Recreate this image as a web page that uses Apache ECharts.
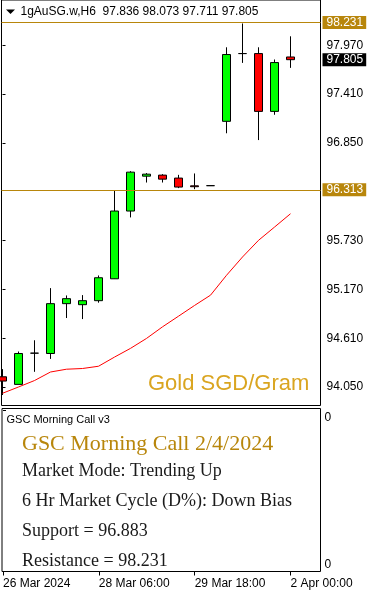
<!DOCTYPE html>
<html><head><meta charset="utf-8">
<script src="https://cdn.jsdelivr.net/npm/echarts@6/dist/echarts.min.js"></script>
<style>html,body{margin:0;padding:0;background:#fff;}#c{width:374px;height:595px;}</style>
</head><body><div id="c"></div>
<script>
// ---- data ----
const symbolName = '1gAuSG.w,H6';
const opens  = [94.168, 94.081, 94.439, 94.435, 95.007, 94.995, 95.041, 95.292, 96.069, 96.469, 96.481, 96.447, 96.358, 96.360, 97.098, 97.875, 97.875, 97.212, 97.836];
const closes = [94.119, 94.435, 94.439, 95.007, 95.064, 95.041, 95.304, 96.069, 96.515, 96.492, 96.435, 96.344, 96.348, 96.360, 97.864, 97.875, 97.212, 97.772, 97.805];
const lows   = [93.959, 94.081, 94.225, 94.373, 94.842, 94.830, 95.018, 95.290, 95.996, 96.396, 96.396, 96.332, 96.320, 96.360, 96.961, 97.768, 96.883, 97.173, 97.711];
const highs  = [94.256, 94.458, 94.587, 95.185, 95.101, 95.105, 95.330, 96.301, 96.526, 96.504, 96.492, 96.484, 96.500, 96.360, 97.947, 98.220, 97.947, 97.807, 98.073];
const maValues = [93.979, 94.051, 94.125, 94.223, 94.255, 94.263, 94.289, 94.394, 94.494, 94.608, 94.741, 94.863, 94.986, 95.104, 95.332, 95.542, 95.733, 95.885, 96.038];
const priceTicks = [94.05, 94.61, 95.17, 95.73, 96.85, 97.41, 97.97];
const timeTickIndex = [0, 6, 12, 18];
const timeTickLabels = ['26 Mar 2024', '28 Mar 06:00', '29 Mar 18:00', '2 Apr 00:00'];
const resistanceLevel = 98.231;
const supportLevel = 96.883;
const levelLine = 96.313;
const chartTitle = 'Gold SGD/Gram';
const panelName = 'GSC Morning Call v3';
const panelTitle = 'GSC Morning Call 2/4/2024';
const marketMode = 'Trending Up';
const marketCycle = 'Down Bias';

// ---- chart ----
const F = '"Liberation Sans", Arial, sans-serif';
const SERIF = '"Liberation Serif", "Times New Roman", serif';
const GOLD = '#B8860B';
const last = opens.length - 1;
const xMin = -0.0625, xMax = 19.875;
const yMin = 93.8388, yMax = 98.4894;

const chart = echarts.init(document.getElementById('c'), null, {renderer: 'canvas'});
const lvlLabel = (bg) => ({
  show: true, position: 'end', distance: 2,
  formatter: p => Number(p.value).toFixed(3),
  color: '#fff', backgroundColor: bg, padding: [1, 3, 0, 4],
  fontSize: 12, fontFamily: F, lineHeight: 12
});
const option = {
  animation: false,
  textStyle: {fontFamily: F},
  grid: [
    {left: 1.5, top: -0.5, width: 319, height: 406, show: true, borderColor: '#000', borderWidth: 1, backgroundColor: '#fff'},
    {left: 1.5, top: 408.5, width: 319, height: 163, show: true, borderColor: '#000', borderWidth: 1, backgroundColor: '#fff'}
  ],
  xAxis: [
    {type: 'value', gridIndex: 0, min: xMin, max: xMax, show: false},
    {type: 'value', gridIndex: 1, min: xMin, max: xMax,
     axisLine: {show: false}, splitLine: {show: false},
     axisTick: {show: true, customValues: timeTickIndex, length: 4, lineStyle: {color: '#000'}},
     axisLabel: {customValues: timeTickIndex, formatter: v => timeTickLabels[timeTickIndex.indexOf(Math.round(v))],
                 align: 'left', margin: 6, color: '#000', fontSize: 12, fontFamily: F}}
  ],
  yAxis: [
    {type: 'value', gridIndex: 0, position: 'right', min: yMin, max: yMax,
     splitLine: {show: false}, axisLine: {show: false},
     axisTick: {show: true, customValues: priceTicks, length: 3, lineStyle: {color: '#000'}},
     axisLabel: {customValues: priceTicks, formatter: v => v.toFixed(3), margin: 6, color: '#000', fontSize: 12, fontFamily: F}},
    {type: 'value', gridIndex: 1, position: 'right', min: 0, max: 163,
     splitLine: {show: false}, axisLine: {show: false},
     axisTick: {show: true, customValues: [161], length: 3, lineStyle: {color: '#000'}},
     axisLabel: {customValues: [153.8, 7.2], formatter: () => '0', margin: 4, color: '#000', fontSize: 12, fontFamily: F}}
  ],
  series: [
    {type: 'candlestick', xAxisIndex: 0, yAxisIndex: 0, barWidth: 9,
     data: opens.map((o, i) => [i, o, closes[i], lows[i], highs[i]]),
     itemStyle: {color: '#00ff00', color0: '#ff0000', borderColor: '#000', borderColor0: '#000', borderColorDoji: '#000', borderWidth: 1},
     markLine: {symbol: 'none', silent: true, animation: false, precision: 3,
       data: [
         {yAxis: resistanceLevel, lineStyle: {color: GOLD, width: 1, type: 'solid'}, label: lvlLabel(GOLD)},
         {yAxis: levelLine, lineStyle: {color: GOLD, width: 1, type: 'solid'}, label: lvlLabel(GOLD)},
         {yAxis: closes[last], lineStyle: {color: 'rgba(0,0,0,0)', width: 0}, label: lvlLabel('#000')}
       ]}
    },
    {type: 'line', xAxisIndex: 0, yAxisIndex: 0, showSymbol: false, symbol: 'none',
     data: maValues.map((v, i) => [i, v]), lineStyle: {color: '#ff0000', width: 1}}
  ],
  graphic: [
    {type: 'polygon', shape: {points: [[6, 9.5], [15, 9.5], [10.5, 14]]}, style: {fill: '#000'}},
    {type: 'text', x: 20.5, y: 12, style: {text: symbolName + '  ' + [opens[last], highs[last], lows[last], closes[last]].map(v => v.toFixed(3)).join(' '),
      font: '12px ' + F, fill: '#000', verticalAlign: 'middle'}},
    {type: 'text', x: 148, y: 384, style: {text: chartTitle, font: '22px ' + F, fill: '#DAA520', verticalAlign: 'middle'}},
    {type: 'text', x: 6.5, y: 419.5, style: {text: panelName, font: '11px ' + F, fill: '#000', verticalAlign: 'middle'}},
    {type: 'text', x: 22, y: 444.5, style: {text: panelTitle, font: '22px ' + SERIF, fill: GOLD, verticalAlign: 'middle'}},
    {type: 'text', x: 22, y: 471.5, style: {text: 'Market Mode: ' + marketMode, font: '18px ' + SERIF, fill: '#1a1a1a', verticalAlign: 'middle'}},
    {type: 'text', x: 22, y: 501.5, style: {text: '6 Hr Market Cycle (D%): ' + marketCycle, font: '18px ' + SERIF, fill: '#1a1a1a', verticalAlign: 'middle'}},
    {type: 'text', x: 22, y: 531.5, style: {text: 'Support = ' + supportLevel.toFixed(3), font: '18px ' + SERIF, fill: '#1a1a1a', verticalAlign: 'middle'}},
    {type: 'text', x: 22, y: 561, style: {text: 'Resistance = ' + resistanceLevel.toFixed(3), font: '18px ' + SERIF, fill: '#1a1a1a', verticalAlign: 'middle'}}
  ]
};
chart.setOption(option);
</script>
</body></html>
